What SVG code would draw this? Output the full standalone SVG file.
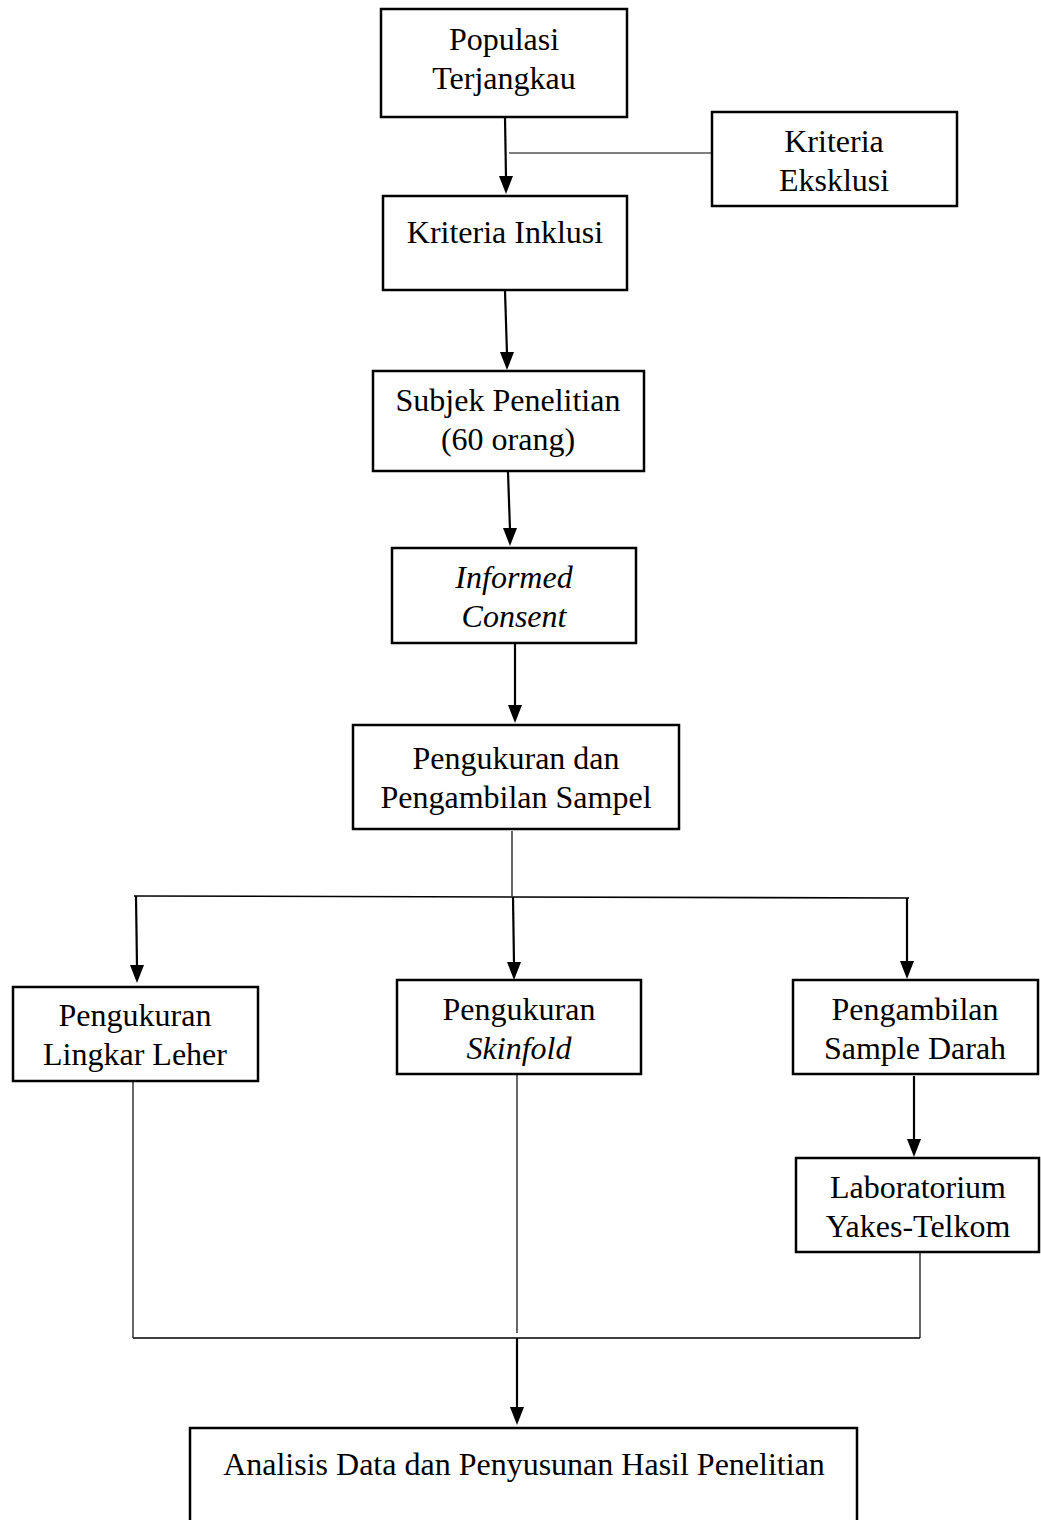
<svg xmlns="http://www.w3.org/2000/svg" width="1041" height="1520" viewBox="0 0 1041 1520">
<style>
.box{fill:#fff;stroke:#000;stroke-width:2.5}
.t{font-family:"Liberation Serif","Times New Roman",serif;font-size:32px;fill:#000;text-anchor:middle}
.i{font-style:italic}
.thin{stroke:#000;stroke-width:1.2;fill:none}
.arr{stroke:#000;stroke-width:2.2;fill:none}
.head{fill:#000}
</style>
<rect width="1041" height="1520" fill="#fff"/>
<g id="connectors">
<line class="arr" x1="505" y1="117" x2="506" y2="178"/>
<path class="head" d="M499,176 L513,176 L506,194 Z"/>
<line class="thin" x1="509" y1="153" x2="712" y2="153"/>
<line class="arr" x1="505" y1="291" x2="507" y2="354"/>
<path class="head" d="M500,352 L514,352 L507,370 Z"/>
<line class="arr" x1="508" y1="472" x2="510" y2="530"/>
<path class="head" d="M503,528 L517,528 L510,546 Z"/>
<line class="arr" x1="515" y1="643" x2="515" y2="707"/>
<path class="head" d="M508,705 L522,705 L515,723 Z"/>
<line class="thin" x1="512" y1="831" x2="512" y2="896"/>
<line x1="134" y1="896" x2="909" y2="898" stroke="#000" stroke-width="1.6"/>
<line class="arr" x1="136" y1="896" x2="137" y2="967"/>
<path class="head" d="M130,965 L144,965 L137,983 Z"/>
<line class="arr" x1="513" y1="897" x2="514" y2="964"/>
<path class="head" d="M507,962 L521,962 L514,980 Z"/>
<line class="arr" x1="907" y1="898" x2="907" y2="963"/>
<path class="head" d="M900,961 L914,961 L907,979 Z"/>
<line class="arr" x1="914" y1="1076" x2="914" y2="1141"/>
<path class="head" d="M907,1139 L921,1139 L914,1157 Z"/>
<line class="thin" x1="133" y1="1082" x2="133" y2="1338"/>
<line class="thin" x1="517" y1="1075" x2="517" y2="1333"/>
<line class="thin" x1="920" y1="1253" x2="920" y2="1338"/>
<line x1="133" y1="1338" x2="920" y2="1338" stroke="#000" stroke-width="1.6"/>
<line class="arr" x1="517" y1="1338" x2="517" y2="1409"/>
<path class="head" d="M510,1407 L524,1407 L517,1425 Z"/>
</g>
<g id="populasi">
<rect class="box" x="381" y="9" width="246" height="108"/>
<text class="t" x="504" y="50">Populasi</text>
<text class="t" x="504" y="89">Terjangkau</text>
</g>
<g id="eksklusi">
<rect class="box" x="712" y="112" width="245" height="94"/>
<text class="t" x="834" y="152">Kriteria</text>
<text class="t" x="834" y="191">Eksklusi</text>
</g>
<g id="inklusi">
<rect class="box" x="383" y="196" width="244" height="94"/>
<text class="t" x="505" y="243">Kriteria Inklusi</text>
</g>
<g id="subjek">
<rect class="box" x="373" y="371" width="271" height="100"/>
<text class="t" x="508" y="411">Subjek Penelitian</text>
<text class="t" x="508" y="450">(60 orang)</text>
</g>
<g id="consent">
<rect class="box" x="392" y="548" width="244" height="95"/>
<text class="t i" x="514" y="588">Informed</text>
<text class="t i" x="514" y="627">Consent</text>
</g>
<g id="pengukuran">
<rect class="box" x="353" y="725" width="326" height="104"/>
<text class="t" x="516" y="769">Pengukuran dan</text>
<text class="t" x="516" y="808">Pengambilan Sampel</text>
</g>
<g id="leher">
<rect class="box" x="13" y="987" width="245" height="94"/>
<text class="t" x="135" y="1026">Pengukuran</text>
<text class="t" x="135" y="1065">Lingkar Leher</text>
</g>
<g id="skinfold">
<rect class="box" x="397" y="980" width="244" height="94"/>
<text class="t" x="519" y="1020">Pengukuran</text>
<text class="t i" x="519" y="1059">Skinfold</text>
</g>
<g id="darah">
<rect class="box" x="793" y="980" width="245" height="94"/>
<text class="t" x="915" y="1020">Pengambilan</text>
<text class="t" x="915" y="1059">Sample Darah</text>
</g>
<g id="lab">
<rect class="box" x="796" y="1158" width="243" height="94"/>
<text class="t" x="918" y="1198">Laboratorium</text>
<text class="t" x="918" y="1237">Yakes-Telkom</text>
</g>
<g id="analisis">
<rect class="box" x="190" y="1428" width="667" height="110"/>
<text class="t" x="524" y="1475">Analisis Data dan Penyusunan Hasil Penelitian</text>
</g>
</svg>
